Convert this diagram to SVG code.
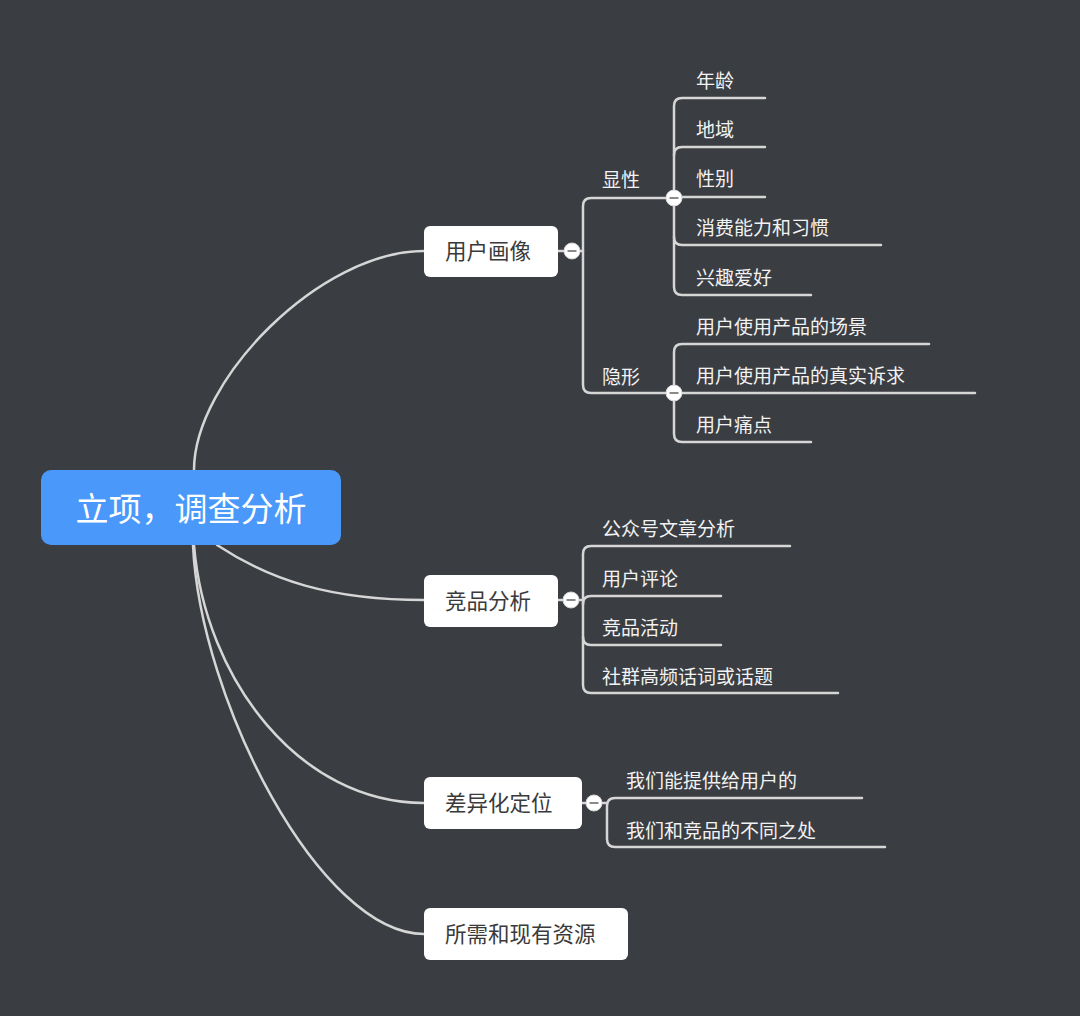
<svg xmlns="http://www.w3.org/2000/svg" width="1080" height="1016" viewBox="0 0 1080 1016">
<defs>
<style>
.bg{fill:#3a3d41}
.ln{fill:none;stroke:#d6d6d6;stroke-width:2.5;stroke-linecap:round}
.node rect{fill:#ffffff}
.nt{font-family:"Noto Sans CJK SC","Noto Sans",sans-serif;font-size:21.5px;fill:#3a3a3a}
.lt{font-family:"Noto Sans CJK SC","Noto Sans",sans-serif;font-size:19px;fill:#f2f2f2}
.rt{font-family:"Noto Sans CJK SC","Noto Sans",sans-serif;font-size:33px;fill:#ffffff}
</style>
<g id="toggle"><circle cx="0" cy="0" r="8" fill="#ffffff" stroke="#d6d6d6" stroke-width="1"/><line x1="-4.5" y1="0" x2="4.5" y2="0" stroke="#8a8a8a" stroke-width="2"/></g>
</defs>
<rect class="bg" x="0" y="0" width="1080" height="1016"/>

<g id="connectors">
  <path class="ln" d="M194,470 C194,380 320,251 424,251"/>
  <path class="ln" d="M217,545 C270,580 330,600 424,600"/>
  <path class="ln" d="M194,545 C205,680 300,803 424,803"/>
  <path class="ln" d="M193,545 C200,700 320,934 424,934"/>
  <path class="ln" d="M558,251 H583"/>
  <path class="ln" d="M674,198 H591 Q583,198 583,206 V385 Q583,393 591,393 H674"/>
  <path class="ln" d="M765,98 H682 Q674,98 674,106 V287 Q674,295 682,295 H811"/>
  <path class="ln" d="M674,155 Q674,147 682,147 H765"/>
  <path class="ln" d="M674,197 H765"/>
  <path class="ln" d="M674,237 Q674,245 682,245 H881"/>
  <path class="ln" d="M929,344 H682 Q674,344 674,352 V434 Q674,442 682,442 H811"/>
  <path class="ln" d="M674,393 H975"/>
  <path class="ln" d="M558,600 H583"/>
  <path class="ln" d="M790,546 H591 Q583,546 583,554 V685 Q583,693 591,693 H838"/>
  <path class="ln" d="M583,604 Q583,596 591,596 H721"/>
  <path class="ln" d="M583,637 Q583,645 591,645 H721"/>
  <path class="ln" d="M582,803 H607"/>
  <path class="ln" d="M862,798 H615 Q607,798 607,806 V839 Q607,847 615,847 H885"/>
</g>

<g id="root">
  <rect x="41" y="470" width="300" height="75" rx="10" fill="#4a98fa"/>
  <text class="rt" x="191" y="521" text-anchor="middle">立项，调查分析</text>
</g>

<g id="n-yonghuhuaxiang" class="node">
  <rect x="424" y="226" width="134" height="51" rx="6"/>
  <text class="nt" x="445" y="259">用户画像</text>
  <use href="#toggle" x="572" y="251"/>
</g>
<g id="n-xianxing">
  <text class="lt" x="602" y="187">显性</text>
  <use href="#toggle" x="674" y="198"/>
</g>
<g id="n-nianling"><text class="lt" x="696" y="88">年龄</text></g>
<g id="n-diyu"><text class="lt" x="696" y="137">地域</text></g>
<g id="n-xingbie"><text class="lt" x="696" y="186">性别</text></g>
<g id="n-xiaofei"><text class="lt" x="696" y="235">消费能力和习惯</text></g>
<g id="n-xingqu"><text class="lt" x="696" y="285">兴趣爱好</text></g>
<g id="n-yinxing">
  <text class="lt" x="602" y="384">隐形</text>
  <use href="#toggle" x="674" y="393"/>
</g>
<g id="n-changjing"><text class="lt" x="696" y="334">用户使用产品的场景</text></g>
<g id="n-suqiu"><text class="lt" x="696" y="383">用户使用产品的真实诉求</text></g>
<g id="n-tongdian"><text class="lt" x="696" y="432">用户痛点</text></g>

<g id="n-jingpin" class="node">
  <rect x="424" y="575" width="134" height="52" rx="6"/>
  <text class="nt" x="445" y="609">竞品分析</text>
  <use href="#toggle" x="571" y="600"/>
</g>
<g id="n-gongzhonghao"><text class="lt" x="602" y="536">公众号文章分析</text></g>
<g id="n-pinglun"><text class="lt" x="602" y="586">用户评论</text></g>
<g id="n-huodong"><text class="lt" x="602" y="635">竞品活动</text></g>
<g id="n-shequn"><text class="lt" x="602" y="684">社群高频话词或话题</text></g>

<g id="n-chayihua" class="node">
  <rect x="424" y="777" width="158" height="52" rx="6"/>
  <text class="nt" x="445" y="811">差异化定位</text>
  <use href="#toggle" x="594" y="803"/>
</g>
<g id="n-tigong"><text class="lt" x="626" y="788">我们能提供给用户的</text></g>
<g id="n-butong"><text class="lt" x="626" y="838">我们和竞品的不同之处</text></g>

<g id="n-ziyuan" class="node">
  <rect x="424" y="908" width="204" height="52" rx="6"/>
  <text class="nt" x="445" y="942">所需和现有资源</text>
</g>
</svg>
